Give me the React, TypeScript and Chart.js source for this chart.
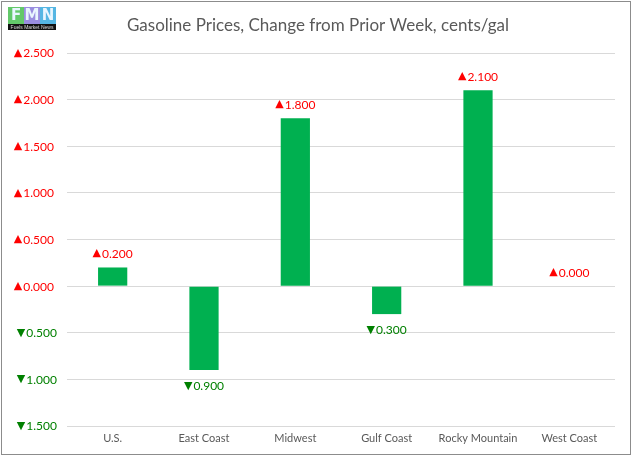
import React, { useEffect, useRef } from "react";
import { Chart, registerables } from "chart.js";

Chart.register(...registerables);

const categories = ["U.S.", "East Coast", "Midwest", "Gulf Coast", "Rocky Mountain", "West Coast"];
const changes = [0.2, -0.9, 1.8, -0.3, 2.1, 0.0];
const yMin = -1.5;
const yMax = 2.5;
const yStep = 0.5;
const titleText = "Gasoline Prices, Change from Prior Week, cents/gal";

const UP = "#FF0000";
const DOWN = "#008000";
const FONT = "Lato, 'Open Sans', sans-serif";
const TRI_FONT = "11px 'DejaVu Sans', sans-serif";
const NUM_FONT = `12px ${FONT}`;

// draws "▲0.200" with the triangle in a separate font; align: 'center' or 'right'
function drawSigned(ctx: any, v: number, x: number, y: number, align: "center" | "right") {
  const tri = v >= 0 ? "\u25B2" : "\u25BC";
  const num = Math.abs(v).toFixed(3);
  ctx.save();
  ctx.textBaseline = "middle";
  ctx.textAlign = "left";
  ctx.fillStyle = v >= 0 ? UP : DOWN;
  ctx.font = TRI_FONT;
  const tw = ctx.measureText(tri).width;
  ctx.font = NUM_FONT;
  const nw = ctx.measureText(num).width;
  const gap = 1;
  const total = tw + gap + nw;
  const left = align === "center" ? x - total / 2 : x - total;
  ctx.font = TRI_FONT;
  ctx.fillText(tri, left, y);
  ctx.font = NUM_FONT;
  ctx.fillText(num, left + tw + gap, y + 0.5);
  ctx.restore();
}

const labelPlugin = {
  id: "valueLabels",
  afterDatasetsDraw(chart: any) {
    const ctx = chart.ctx;
    const meta = chart.getDatasetMeta(0);
    meta.data.forEach((bar: any, i: number) => {
      const v = changes[i];
      const y = v >= 0 ? bar.y - 14 : bar.y + 16;
      drawSigned(ctx, v, bar.x, y, "center");
    });
    // y-axis tick labels
    const ys = chart.scales.y;
    for (let v = yMin; v <= yMax + 1e-9; v += yStep) {
      const val = Math.round(v * 1000) / 1000;
      drawSigned(ctx, val, val >= 0 ? 54 : 57, ys.getPixelForValue(val), "right");
    }
  },
};

const titlePlugin = {
  id: "customTitle",
  afterDraw(chart: any) {
    const ctx = chart.ctx;
    ctx.save();
    ctx.font = `17px ${FONT}`;
    ctx.fillStyle = "#595959";
    ctx.textAlign = "center";
    ctx.textBaseline = "middle";
    ctx.fillText(titleText, 318, 26);
    ctx.restore();
  },
};

export default function App() {
  const ref = useRef<HTMLCanvasElement>(null);
  useEffect(() => {
    if (!ref.current) return;
    const chart = new Chart(ref.current, {
      type: "bar",
      data: {
        labels: categories,
        datasets: [
          {
            data: changes,
            backgroundColor: "#00B050",
            borderWidth: 0,
            barPercentage: 0.32,
            categoryPercentage: 1,
          },
        ],
      },
      options: {
        animation: false,
        responsive: false,
        maintainAspectRatio: false,
        layout: { padding: { top: 53, left: 0, right: 19, bottom: 7 } },
        plugins: { legend: { display: false }, tooltip: { enabled: false }, title: { display: false } },
        scales: {
          x: {
            grid: { display: false, drawTicks: false },
            border: { display: false },
            ticks: { color: "#595959", font: { family: FONT, size: 11 }, padding: 6, maxRotation: 0 },
            afterFit: (s: any) => {
              s.height = 29;
            },
          },
          y: {
            min: yMin,
            max: yMax,
            grid: { color: "#D9D9D9", drawTicks: false },
            border: { display: false },
            ticks: { stepSize: yStep, display: false },
            afterFit: (s: any) => {
              s.width = 67;
            },
          },
        },
      },
      plugins: [labelPlugin, titlePlugin],
    });
    return () => chart.destroy();
  }, []);

  return (
    <div style={{ position: "fixed", left: 0, top: 0, width: 634, height: 462, background: "#fff" }}>
      <div
        style={{
          position: "absolute",
          left: 1,
          top: 1,
          width: 628,
          height: 452,
          border: "1px solid #8c8c8c",
        }}
      />
      <canvas ref={ref} width={634} height={462} style={{ position: "absolute", left: 0, top: 0 }} />
      <div style={{ position: "absolute", left: 8, top: 7, width: 48, height: 23 }}>
        <div style={{ display: "flex", height: 17 }}>
          {[
            ["F", "#63c96a"],
            ["M", "#9a8ee0"],
            ["N", "#55b6e3"],
          ].map(([l, c]) => (
            <div
              key={l}
              style={{
                flex: 1,
                background: c,
                color: "#e9f6ff",
                fontFamily: "'DejaVu Sans', sans-serif",
                fontWeight: "bold",
                fontSize: 15,
                lineHeight: "17px",
                textAlign: "center",
              }}
            >
              {l}
            </div>
          ))}
        </div>
        <div
          style={{
            background: "#111",
            color: "#ddd",
            fontSize: 5,
            lineHeight: "6px",
            height: 6,
            whiteSpace: "nowrap",
            overflow: "hidden",
            fontFamily: "sans-serif",
            textAlign: "center",
          }}
        >
          Fuels Market News
        </div>
      </div>
    </div>
  );
}
